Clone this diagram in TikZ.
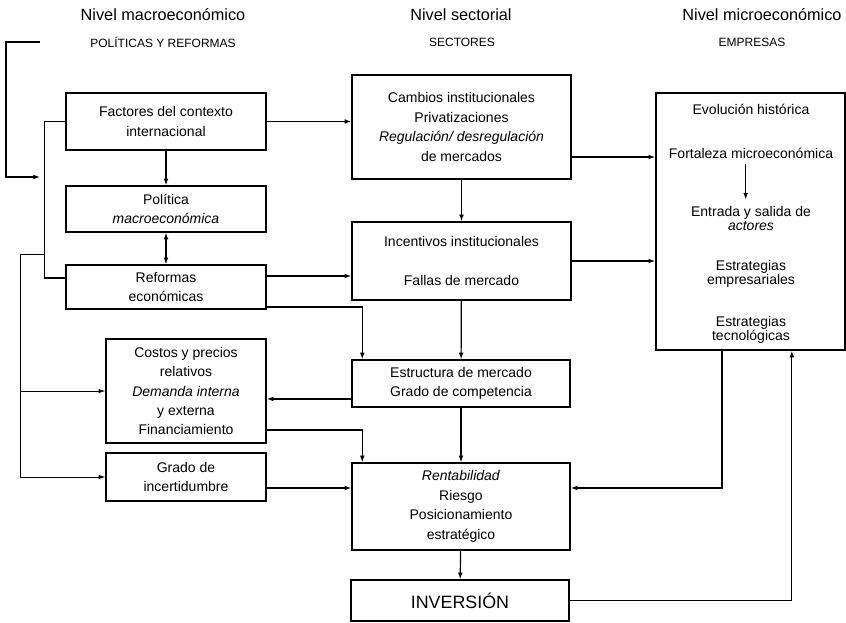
\documentclass[tikz,border=0pt]{standalone}
\usepackage{fontspec}
\setmainfont{Liberation Sans}
\usetikzlibrary{arrows.meta}

\tikzset{
  caja/.style={draw, line width=1.1pt, align=center, inner sep=0pt, font=\fontsize{10.5}{14.6}\selectfont},
  texto/.style={align=center, inner sep=0pt, font=\fontsize{10.5}{10.4}\selectfont},
  titulo/.style={inner sep=0pt, font=\fontsize{12.2}{14}\selectfont},
  subtitulo/.style={inner sep=0pt, font=\fontsize{9}{11}\selectfont},
  linea/.style={line width=0.9pt},
  flecha/.style={line width=0.9pt, ->}
}

\begin{document}
\begin{tikzpicture}[x=0.75pt, y=-0.75pt, >={Latex[length=5pt,width=3.6pt]}]
  \useasboundingbox (0,0) rectangle (846,623);

  \node[titulo] (hmacro) at (163,15) {Nivel macroeconómico};
  \node[titulo] (hsect) at (461,15) {Nivel sectorial};
  \node[titulo] (hmicro) at (762,15) {Nivel microeconómico};
  \node[subtitulo] (smacro) at (163,42) {POLÍTICAS Y REFORMAS};
  \node[subtitulo] (ssect) at (462,42) {SECTORES};
  \node[subtitulo] (smicro) at (752,42) {EMPRESAS};

  \node[caja, minimum width=150pt, minimum height=42.75pt] (fact) at (166,121.5) {Factores del contexto\\internacional};
  \node[caja, minimum width=150pt, minimum height=34.5pt] (pol) at (166,209) {Política\\\textit{macroeconómica}};
  \node[caja, minimum width=150pt, minimum height=33pt] (ref) at (166,287) {Reformas\\económicas};
  \node[caja, minimum width=120pt, minimum height=78pt] (cost) at (186,391) {Costos y precios\\relativos\\\textit{Demanda interna}\\y externa\\Financiamiento};
  \node[caja, minimum width=120pt, minimum height=36pt] (inc) at (186,477) {Grado de\\incertidumbre};

  \node[caja, minimum width=164.25pt, minimum height=78pt] (camb) at (461.5,127) {Cambios institucionales\\Privatizaciones\\\textit{Regulación/ desregulación}\\de mercados};
  \node[caja, minimum width=164.25pt, minimum height=58.5pt] (incent) at (461.5,261) {Incentivos institucionales\\[14.6pt]Fallas de mercado};
  \node[caja, minimum width=163.5pt, minimum height=35.25pt] (estr) at (461,383.5) {Estructura de mercado\\Grado de competencia};
  \node[caja, minimum width=163.5pt, minimum height=65.25pt] (rent) at (461,506.5) {\textit{Rentabilidad}\\Riesgo\\Posicionamiento\\estratégico};
  \node[caja, minimum width=163.5pt, minimum height=30.75pt, font=\fontsize{13.4}{16}\selectfont] (inv) at (460,600.5) {INVERSIÓN};

  \node[caja, minimum width=141.75pt, minimum height=192.75pt] (emp) at (750.5,221.5) {};
  \node[texto] (evol) at (751,109) {Evolución histórica};
  \node[texto] (fort) at (751,153) {Fortaleza microeconómica};
  \node[texto] (entr) at (751,218.5) {Entrada y salida de\\\textit{actores}};
  \node[texto] (estrE) at (751,274) {Estrategias\\empresariales};
  \node[texto] (estrT) at (751,330) {Estrategias\\tecnológicas};
  \draw[flecha, shorten <=4pt, shorten >=5pt] ([xshift=-4pt]fort.south) -- ([xshift=-4pt]entr.north);

  \coordinate (ext) at (40,42);
  \coordinate (bus) at (40,177);
  \coordinate (rama) at (45,254);
  \draw[flecha] (ext) -- (6,42) |- (bus);
  \draw[linea] (fact.west) -- ++(-21,0) |- ([yshift=6.75pt]ref.west);
  \draw[flecha, line width=0.7pt] (rama) -- ++(-25,0) |- (cost.west);
  \draw[flecha, line width=0.7pt] (20,380) |- (inc.west);

  \draw[flecha] (fact.east) -- (fact.east -| camb.west);
  \draw[flecha] (fact) -- (pol);
  \draw[linea, <->] (pol) -- (ref);
  \path ([yshift=8.25pt]ref.east) coordinate (r1);
  \draw[flecha] (r1) -- (r1 -| incent.west);
  \draw[flecha] ([yshift=-15pt]ref.east) -| ([xshift=8.25pt]estr.north west);

  \draw[flecha] (camb) -- (incent);
  \draw[flecha] (incent) -- (estr);
  \draw[flecha] (estr) -- (rent);
  \draw[flecha] (rent) -- (inv);
  \path ([yshift=-11.6pt]estr.west) coordinate (e1);
  \draw[flecha] (e1) -- (e1 -| cost.east);
  \draw[flecha] ([yshift=-29.25pt]cost.east) -| ([xshift=8.25pt]rent.north west);
  \path ([yshift=-8.25pt]inc.east) coordinate (g1);
  \draw[flecha] (g1) -- (g1 -| rent.west);

  \path ([yshift=-22.5pt]camb.east) coordinate (c1);
  \draw[flecha] (c1) -- (c1 -| emp.west);
  \draw[flecha] (incent.east) -- (incent.east -| emp.west);
  \draw[flecha] ([xshift=-21.4pt]emp.south) |- ([yshift=13.9pt]rent.east);
  \draw[flecha] (inv.east) -| ([xshift=31pt]emp.south);
\end{tikzpicture}
\end{document}
